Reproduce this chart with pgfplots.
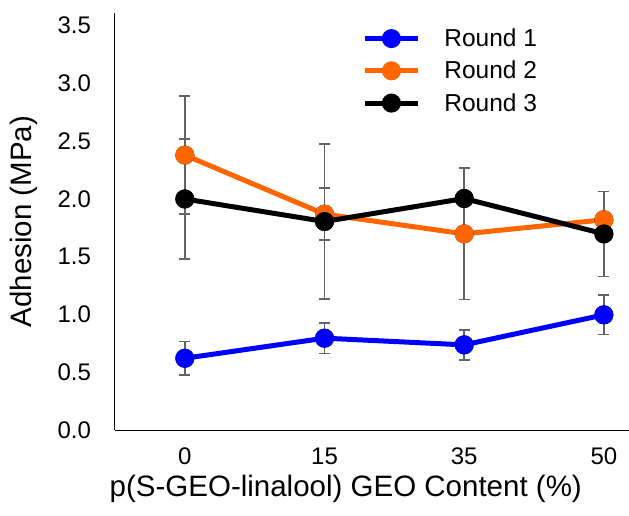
\documentclass[border=0pt]{standalone}
\usepackage{fontspec}
\setmainfont{Liberation Sans}
\usepackage{pgfplots}
\pgfplotsset{compat=1.18}
\definecolor{rblue}{RGB}{0,0,255}
\definecolor{rorange}{RGB}{255,102,0}
\definecolor{errgray}{RGB}{100,100,100}
\begin{document}
\begin{tikzpicture}
\begin{axis}[
  name=ax,
  scale only axis,
  width=514pt, height=417pt,
  xmin=-0.5, xmax=3.18,
  ymin=0, ymax=3.61,
  axis x line*=bottom, axis y line*=left,
  axis line style={line width=1pt, black, -},
  major tick length=0pt,
  xtick={0,1,2,3}, xticklabels={0,15,35,50},
  ytick={0,0.5,1,1.5,2,2.5,3,3.5},
  /pgf/number format/assume math mode=true,
  yticklabel={\pgfmathprintnumber[fixed,fixed zerofill,precision=1]{\tick}},
  tick label style={font=\fontsize{24}{28}\selectfont},
  yticklabel style={xshift=-20.5pt},
  xticklabel style={yshift=-14pt},
  every axis y label/.style={at={(axis description cs:-0.177,0.5)}, rotate=90, anchor=center},
  every axis x label/.style={at={(axis description cs:0.449,-0.1415)}, anchor=center},
  label style={font=\fontsize{29.5}{34}\selectfont},
  xlabel={p(S-GEO-linalool) GEO Content (\%)},
  ylabel={Adhesion (MPa)},
  legend style={at={(axis description cs:0.481,0.967)}, anchor=north west, draw=none, fill=none,
    font=\fontsize{24.5}{28}\selectfont, row sep=9pt, inner sep=0pt,
    /tikz/every odd column/.append style={column sep=22pt}},
  legend cell align=left,
  legend image code/.code={\draw[#1,mark repeat=2,mark phase=2] plot coordinates {(0pt,0pt)(26.5pt,0pt)(53pt,0pt)};},
  every axis plot/.append style={line width=5pt, mark=*, mark size=7pt},
]
% error bars (drawn beneath lines)
\addplot[only marks, mark=none, forget plot, error bars/.cd, y dir=both, y explicit,
  error bar style={line width=1.5pt, color=errgray},
  error mark options={rotate=90, mark size=5.5pt, line width=1.5pt, color=errgray}]
  coordinates {(0,0.621) +- (0,0.145) (1,0.795) +- (0,0.133) (2,0.737) +- (0,0.13) (3,0.997) +- (0,0.17)};
\addplot[only marks, mark=none, forget plot, error bars/.cd, y dir=both, y explicit,
  error bar style={line width=1.5pt, color=errgray},
  error mark options={rotate=90, mark size=5.5pt, line width=1.5pt, color=errgray}]
  coordinates {(0,2.38) +- (0,0.51) (1,1.869) +- (0,0.225) (2,1.698) +- (0,0.57) (3,1.82) +- (0,0.0)};
\addplot[only marks, mark=none, forget plot, error bars/.cd, y dir=both, y explicit,
  error bar style={line width=1.5pt, color=errgray},
  error mark options={rotate=90, mark size=5.5pt, line width=1.5pt, color=errgray}]
  coordinates {(0,2.0) +- (0,0.52) (1,1.805) +- (0,0.67) (2,2.004) +- (0,0.26) (3,1.698) +- (0,0.367)};
% lines
\addplot[color=rblue] coordinates {(0,0.621) (1,0.795) (2,0.737) (3,0.997)};
\addlegendentry{Round 1}
\addplot[color=rorange] coordinates {(0,2.38) (1,1.869) (2,1.698) (3,1.82)};
\addlegendentry{Round 2}
\addplot[color=black] coordinates {(0,2.0) (1,1.805) (2,2.004) (3,1.698)};
\addlegendentry{Round 3}
\end{axis}
\pgfresetboundingbox
\path (ax.south west) ++(-115pt,-85pt) rectangle ++(629pt,515pt);
\end{tikzpicture}
\end{document}
